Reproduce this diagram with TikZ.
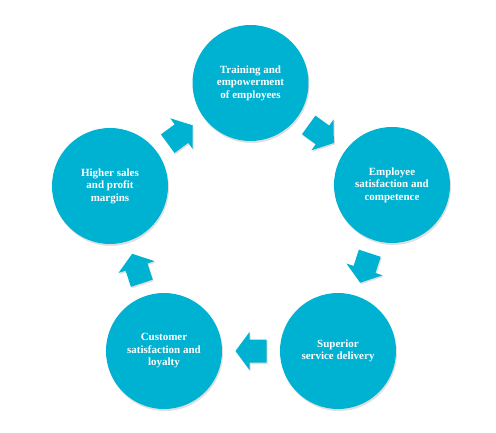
\documentclass[tikz,border=0pt]{standalone}
\usepackage{fontspec}
\setmainfont{Liberation Serif}
\usetikzlibrary{calc,shadows}
\definecolor{cyanfill}{RGB}{0,178,210}
\tikzset{
  stage/.style={circle, fill=cyanfill, minimum size=116pt, inner sep=0pt,
    text=white, align=center, font=\bfseries\fontsize{11}{12.5}\selectfont,
    drop shadow={shadow xshift=1pt, shadow yshift=-2pt, opacity=0.25}},
  blockarrow/.pic={
    \fill[cyanfill, drop shadow={shadow xshift=1pt, shadow yshift=-1.5pt, opacity=0.25}]
      (-15.5,-11.5) -- (1.5,-11.5) -- (1.5,-19) -- (15.5,0) -- (1.5,19)
      -- (1.5,11.5) -- (-15.5,11.5) -- cycle;
  }
}
\begin{document}
\begin{tikzpicture}[x=1pt,y=1pt]
\useasboundingbox (0,0) rectangle (496,432);
\node[stage] (T) at (250.5,349) {Training and\\empowerment\\of employees};
\node[stage] (E) at (392,247) {Employee\\satisfaction and\\competence};
\node[stage] (S) at (338,81) {Superior\\service delivery};
\node[stage] (C) at (164,81) {Customer\\satisfaction and\\loyalty};
\node[stage] (H) at (110,246) {Higher sales\\and profit\\margins};
\foreach \a/\b in {T/E,E/S,S/C,C/H,H/T} {
  \path let \p1=($(\b)-(\a)$), \n1={atan2(\y1,\x1)} in
    pic[rotate=\n1] at ($(\a)!0.5!(\b)$) {blockarrow};
}
\end{tikzpicture}
\end{document}
